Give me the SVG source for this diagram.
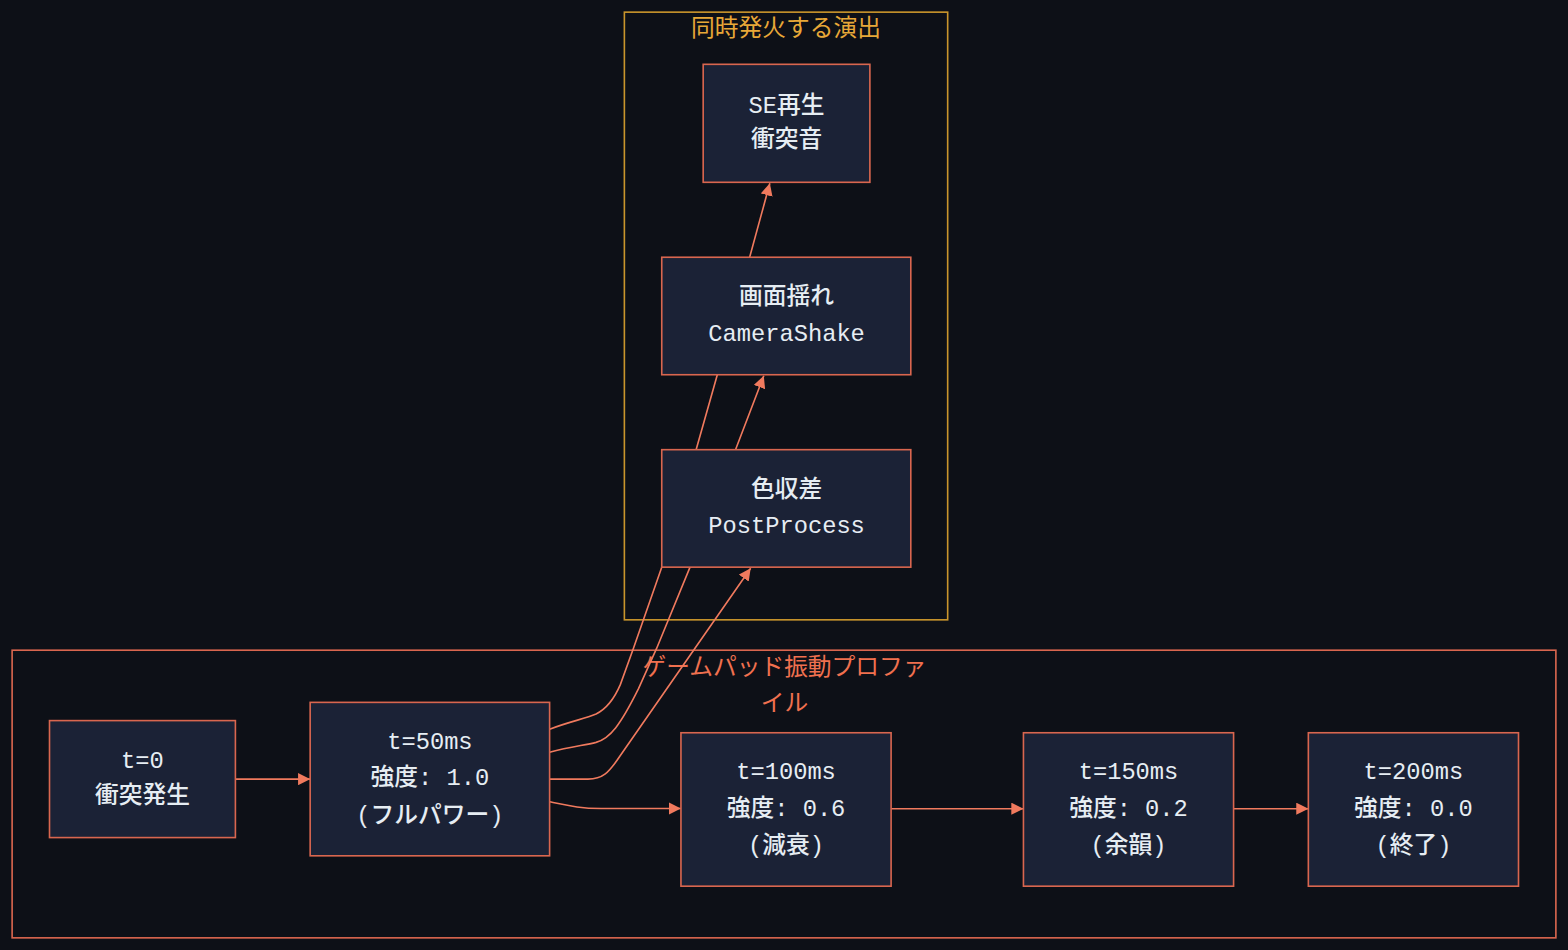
<svg xmlns="http://www.w3.org/2000/svg" width="1568" height="950" viewBox="0 0 1568 950">
<style>
.bg{fill:#0d1017}
.cl-top{fill:none;stroke:#c9952c;stroke-width:1.6}
.cl-bot{fill:none;stroke:#d9664f;stroke-width:1.6}
.node rect{fill:#1b2236;stroke:#d9664f;stroke-width:1.6}
.t{font-family:"Liberation Mono","Noto Sans CJK JP",monospace;font-size:23.5px;font-weight:500;fill:#e6edf3;text-anchor:middle}
.ttl{font-family:"Noto Sans CJK JP","Noto Sans",sans-serif;font-size:23.5px;text-anchor:middle}
.edge{fill:none;stroke:#f07a5e;stroke-width:1.6}
</style>
<defs>
<marker id="ah" viewBox="0 0 10 10" refX="10" refY="5" markerWidth="12" markerHeight="12" markerUnits="userSpaceOnUse" orient="auto">
<path d="M0,0 L10,5 L0,10 z" fill="#f07a5e"/>
</marker>
</defs>
<rect class="bg" x="0" y="0" width="1568" height="950"/>
<g transform="scale(1.01031 1.01279)">
<g id="cluster-effects">
<rect class="cl-top" x="618" y="12" width="320" height="600"/>
<text class="ttl" x="778" y="35.5" fill="#e8a838">同時発火する演出</text>
</g>
<g id="cluster-gamepad">
<rect class="cl-bot" x="12" y="642" width="1528" height="284"/>
<text class="ttl" x="776.5" y="666" fill="#f0704f">ゲームパッド振動プロファ</text>
<text class="ttl" x="776.5" y="702" fill="#f0704f">イル</text>
</g>
<g id="connectors">
<path class="edge" marker-end="url(#ah)" d="M233,769.3 L307,769.3"/>
<path class="edge" marker-end="url(#ah)" d="M544,791.7 C565,796 575,798.3 595,798.3 L674,798.3"/>
<path class="edge" marker-end="url(#ah)" d="M882,798.5 L1013,798.5"/>
<path class="edge" marker-end="url(#ah)" d="M1221,798.5 L1295,798.5"/>
<path class="edge" marker-end="url(#ah)" d="M544,769.3 L582,769.3 C596,769.3 602,764 614,746 L743,561"/>
<path class="edge" marker-end="url(#ah)" d="M544,742.7 C565,737 578,736 590,733 C604,729 614,716 632,680 L650,640 L683,560 L728,444 L756,371"/>
<path class="edge" marker-end="url(#ah)" d="M544,720 C565,712 578,710 590,705 C600,700 608,690 614,676 L627,640 L655,560 C668,520 680,476 689,444 L710,370 L742,254 L762,181"/>
</g>
<g id="node-se" class="node">
<rect x="696" y="63.5" width="165" height="116.5"/>
<text class="t" x="778.5" y="111.5">SE再生</text>
<text class="t" x="778.5" y="145.5">衝突音</text>
</g>
<g id="node-shake" class="node">
<rect x="655" y="254" width="246.5" height="116"/>
<text class="t" x="778.5" y="300">画面揺れ</text>
<text class="t" x="778.5" y="336.5">CameraShake</text>
</g>
<g id="node-chroma" class="node">
<rect x="655" y="444" width="246.5" height="116"/>
<text class="t" x="778.5" y="491">色収差</text>
<text class="t" x="778.5" y="526.5">PostProcess</text>
</g>
<g id="node-t0" class="node">
<rect x="49" y="711.5" width="184" height="115.5"/>
<text class="t" x="141" y="758">t=0</text>
<text class="t" x="141" y="792.5">衝突発生</text>
</g>
<g id="node-t50" class="node">
<rect x="307" y="693.5" width="237" height="151.5"/>
<text class="t" x="425.5" y="740">t=50ms</text>
<text class="t" x="425.5" y="775">強度: 1.0</text>
<text class="t" x="425.5" y="812.5">(フルパワー)</text>
</g>
<g id="node-t100" class="node">
<rect x="674" y="723.5" width="208" height="151.5"/>
<text class="t" x="778" y="769">t=100ms</text>
<text class="t" x="778" y="805.5">強度: 0.6</text>
<text class="t" x="778" y="842">(減衰)</text>
</g>
<g id="node-t150" class="node">
<rect x="1013" y="723.5" width="208" height="151.5"/>
<text class="t" x="1117" y="769">t=150ms</text>
<text class="t" x="1117" y="805.5">強度: 0.2</text>
<text class="t" x="1117" y="842">(余韻)</text>
</g>
<g id="node-t200" class="node">
<rect x="1295" y="723.5" width="208" height="151.5"/>
<text class="t" x="1399" y="769">t=200ms</text>
<text class="t" x="1399" y="805.5">強度: 0.0</text>
<text class="t" x="1399" y="842">(終了)</text>
</g>
</g>
</svg>
